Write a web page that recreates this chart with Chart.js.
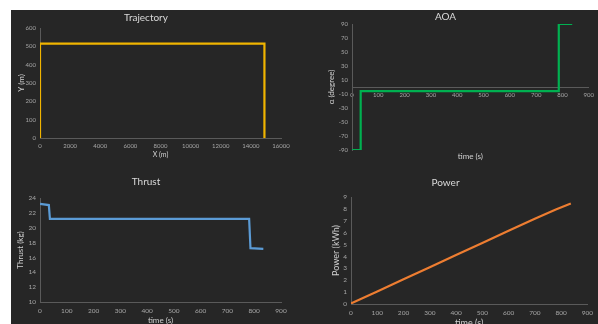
<!DOCTYPE html>
<html>
<head>
<meta charset="utf-8">
<script src="https://cdn.jsdelivr.net/npm/chart.js@4.4.0/dist/chart.umd.min.js"></script>
<style>
html, body { margin: 0; padding: 0; background: #fff; }
#panel { position: absolute; left: 11px; top: 10px; width: 587px; height: 314px; background: #262626; }
canvas { position: absolute; }
</style>
</head>
<body>
<div id="panel"></div>
<canvas id="traj" width="289" height="155" style="left:11px;top:10px"></canvas>
<canvas id="aoa" width="298" height="155" style="left:300px;top:10px"></canvas>
<canvas id="thrust" width="289" height="159" style="left:11px;top:165px"></canvas>
<canvas id="power" width="298" height="159" style="left:300px;top:165px"></canvas>
<script>
// values
var trajX = [0, 0, 14900, 14900];
var trajY = [0, 515, 515, 0];

var aoaTime = [0, 32, 33, 785, 786, 837];
var aoaDeg = [-90, -90, -6, -6, 90, 90];
var aoaTicks = [-90, -70, -50, -30, -10, 10, 30, 50, 70, 90];

var thrustTime = [0, 33, 37, 781, 786, 834];
var thrustKg = [23.2, 23.05, 21.2, 21.2, 17.25, 17.15];

var powerTime = [0, 100, 200, 300, 400, 500, 600, 700, 780, 837];
var powerKwh = [0.05, 1.05, 2.08, 3.1, 4.12, 5.14, 6.16, 7.17, 7.95, 8.45];

var FONT = 'Lato, "Liberation Sans", sans-serif';

function pts(xs, ys) {
    return xs.map(function(x, i) { return {x: x, y: ys[i]}; });
}

function axis(o) {
    var a = {
        type: 'linear',
        min: o.min,
        max: o.max,
        position: o.position,
        grid: {display: false, drawTicks: false},
        border: {display: o.border !== false, color: '#5a5a5a', width: 1},
        ticks: {
            display: o.ticks !== false,
            stepSize: o.step,
            color: '#a6a6a6',
            font: {family: FONT, size: o.tickSize || 6.5},
            padding: o.tickPad,
            autoSkip: false,
            maxRotation: 0,
            callback: function(v) { return String(v); }
        },
        title: {
            display: !!o.title,
            text: o.title,
            color: '#d0d0d0',
            font: {family: FONT, size: o.titleSize || 8},
            padding: o.titlePad
        }
    };
    if (o.size) {
        a.afterFit = function(s) {
            if (s.isHorizontal()) s.height = o.size; else s.width = o.size;
        };
    }
    if (o.tickList) {
        a.afterBuildTicks = function(s) {
            s.ticks = o.tickList.map(function(v) { return {value: v}; });
        };
    }
    return a;
}

function makeChart(id, data, color, title, titlePad, padRight, scales) {
    return new Chart(document.getElementById(id), {
        type: 'scatter',
        data: {
            datasets: [{
                data: data,
                showLine: true,
                borderColor: color,
                borderWidth: 2.2,
                pointRadius: 0,
                tension: 0
            }]
        },
        options: {
            responsive: false,
            animation: false,
            layout: {padding: {top: 0, left: 0, bottom: 0, right: padRight}},
            plugins: {
                legend: {display: false},
                tooltip: {enabled: false},
                title: {
                    display: true,
                    text: title,
                    color: '#d9d9d9',
                    font: {family: FONT, size: 10, weight: 'normal'},
                    padding: titlePad
                }
            },
            scales: scales
        }
    });
}

makeChart('traj', pts(trajX, trajY), '#f0b400', 'Trajectory', {top: 2, bottom: 4}, 19, {
    x: axis({min: 0, max: 16000, step: 2000, position: 'bottom', size: 27, tickSize: 6, tickPad: 4.4,
             title: 'X (m)', titleSize: 7, titlePad: {bottom: 5.8}}),
    y: axis({min: 0, max: 600, step: 100, position: 'left', size: 29, tickSize: 6, tickPad: 4,
             title: 'Y (m)', titleSize: 8, titlePad: {top: 5.2}})
});

makeChart('aoa', pts(aoaTime, aoaDeg), '#00b050', 'AOA', {top: 1, bottom: 1}, 7, {
    x: axis({min: 0, max: 900, step: 100, position: {y: 0}, tickSize: 6, tickPad: 4}),
    xt: axis({min: 0, max: 900, position: 'bottom', size: 15, ticks: false, border: false,
              title: 'time (s)', titleSize: 8, titlePad: {bottom: 4.2}}),
    y: axis({min: -90, max: 90, position: 'left', size: 52, tickSize: 6, tickPad: 4, tickList: aoaTicks,
             title: 'α (degree)', titleSize: 8, titlePad: {top: 26.2}})
});

makeChart('thrust', pts(thrustTime, thrustKg), '#5b9bd5', 'Thrust', {top: 11, bottom: 10}, 19, {
    x: axis({min: 0, max: 900, step: 100, position: 'bottom', size: 22, tickSize: 6.5, tickPad: 4.8,
             title: 'time (s)', titleSize: 8, titlePad: {bottom: -1.5}}),
    y: axis({min: 10, max: 24, step: 2, position: 'left', size: 29, tickSize: 6.5, tickPad: 4,
             title: 'Thrust (kg)', titleSize: 8, titlePad: {top: 5}})
});

makeChart('power', pts(powerTime, powerKwh), '#ed7d31', 'Power', {top: 11.3, bottom: 8.7}, 7, {
    x: axis({min: 0, max: 900, step: 100, position: 'bottom', size: 20, tickSize: 6.5, tickPad: 5,
             title: 'time (s)', titleSize: 9, titlePad: {bottom: -4.4}}),
    y: axis({min: 0, max: 9, step: 1, position: 'left', size: 51, tickSize: 6.5, tickPad: 4,
             title: 'Power (kWh)', titleSize: 9, titlePad: {top: 30.3}})
});
</script>
</body>
</html>
